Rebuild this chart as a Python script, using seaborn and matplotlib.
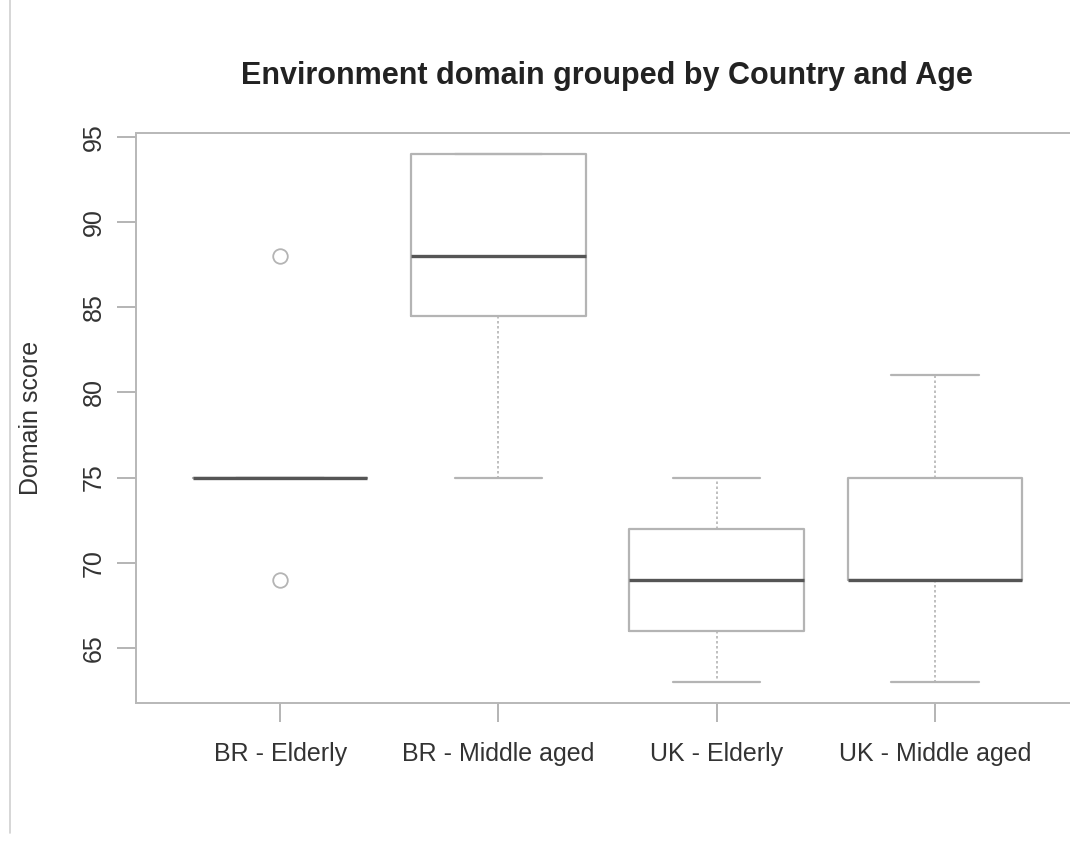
import numpy as np
import pandas as pd
import matplotlib
matplotlib.use("Agg")
import matplotlib.pyplot as plt
import seaborn as sns
from matplotlib.lines import Line2D

# Data (raw values chosen so the box statistics match the chart)
groups = ["BR - Elderly", "BR - Middle aged", "UK - Elderly", "UK - Middle aged"]
br_elderly = [69, 75, 75, 75, 75, 75, 88]
br_middle = [75, 84, 85, 88, 94, 94, 94]
uk_elderly = [63, 66, 66, 69, 72, 72, 75]
uk_middle = [63, 69, 69, 69, 75, 75, 81]
y_ticks = [65, 70, 75, 80, 85, 90, 95]

title = "Environment domain grouped by Country and Age"
ylabel = "Domain score"

df = pd.DataFrame({
    "group": np.repeat(groups, [len(br_elderly), len(br_middle), len(uk_elderly), len(uk_middle)]),
    "score": br_elderly + br_middle + uk_elderly + uk_middle,
})

sns.set_style("white")
plt.rcParams["font.family"] = ["Liberation Sans", "DejaVu Sans"]

fig = plt.figure(figsize=(10.7, 8.5), dpi=100)
ax = fig.add_axes([136 / 1070, 147 / 850, 943 / 1070, 570 / 850])

edge = "#b4b4b4"
sns.boxplot(
    data=df, x="group", y="score", order=groups, ax=ax,
    width=0.8, whis=1.5, fill=False, linecolor=edge, linewidth=1.6,
    boxprops=dict(color=edge, linewidth=1.6),
    whiskerprops=dict(color=edge, linestyle=(0, (1.5, 1.5)), linewidth=1.2),
    capprops=dict(color=edge, linewidth=1.6),
    medianprops=dict(color="#555555", linewidth=2.4),
    flierprops=dict(marker="o", markersize=10.5, markerfacecolor="none",
                    markeredgecolor=edge, markeredgewidth=1.3),
)

# caps at half box width (R staplewex)
for line in ax.lines:
    xd = np.asarray(line.get_xdata(), dtype=float)
    yd = np.asarray(line.get_ydata(), dtype=float)
    if len(xd) == 2 and yd[0] == yd[1] and abs(xd[1] - xd[0]) > 0.01:
        c = xd.mean()
        span = abs(xd[1] - xd[0])
        if line.get_linewidth() < 2.0 and span < 0.79:
            line.set_xdata([c - 0.2, c + 0.2])

ax.set_xlim(-0.66, 3.66)
ax.set_ylim(61.76, 95.24)
ax.set_yticks(y_ticks)
ax.set_yticklabels([str(t) for t in y_ticks], rotation=90, va="center")
ax.tick_params(axis="both", direction="out", length=14, width=1.2, color="#a8a8a8",
               labelsize=18, labelcolor="#333333", pad=8, left=True, bottom=True)
ax.tick_params(axis="x", pad=14)
ax.set_xlabel("")
ax.set_ylabel(ylabel, fontsize=18, color="#333333", labelpad=28)

for s in ax.spines.values():
    s.set_color("#b8b8b8")
    s.set_linewidth(1.4)

fig.text(607 / 1070, 1 - 76 / 850, title, ha="center", va="center",
         fontsize=22, fontweight="bold", color="#222222")

# left border line of screenshot
fig.add_artist(Line2D([10 / 1070, 10 / 1070], [0.02, 1.0], transform=fig.transFigure,
                      color="#cfcfcf", linewidth=1.2))

fig.savefig("out.png", dpi=100, facecolor="white")
